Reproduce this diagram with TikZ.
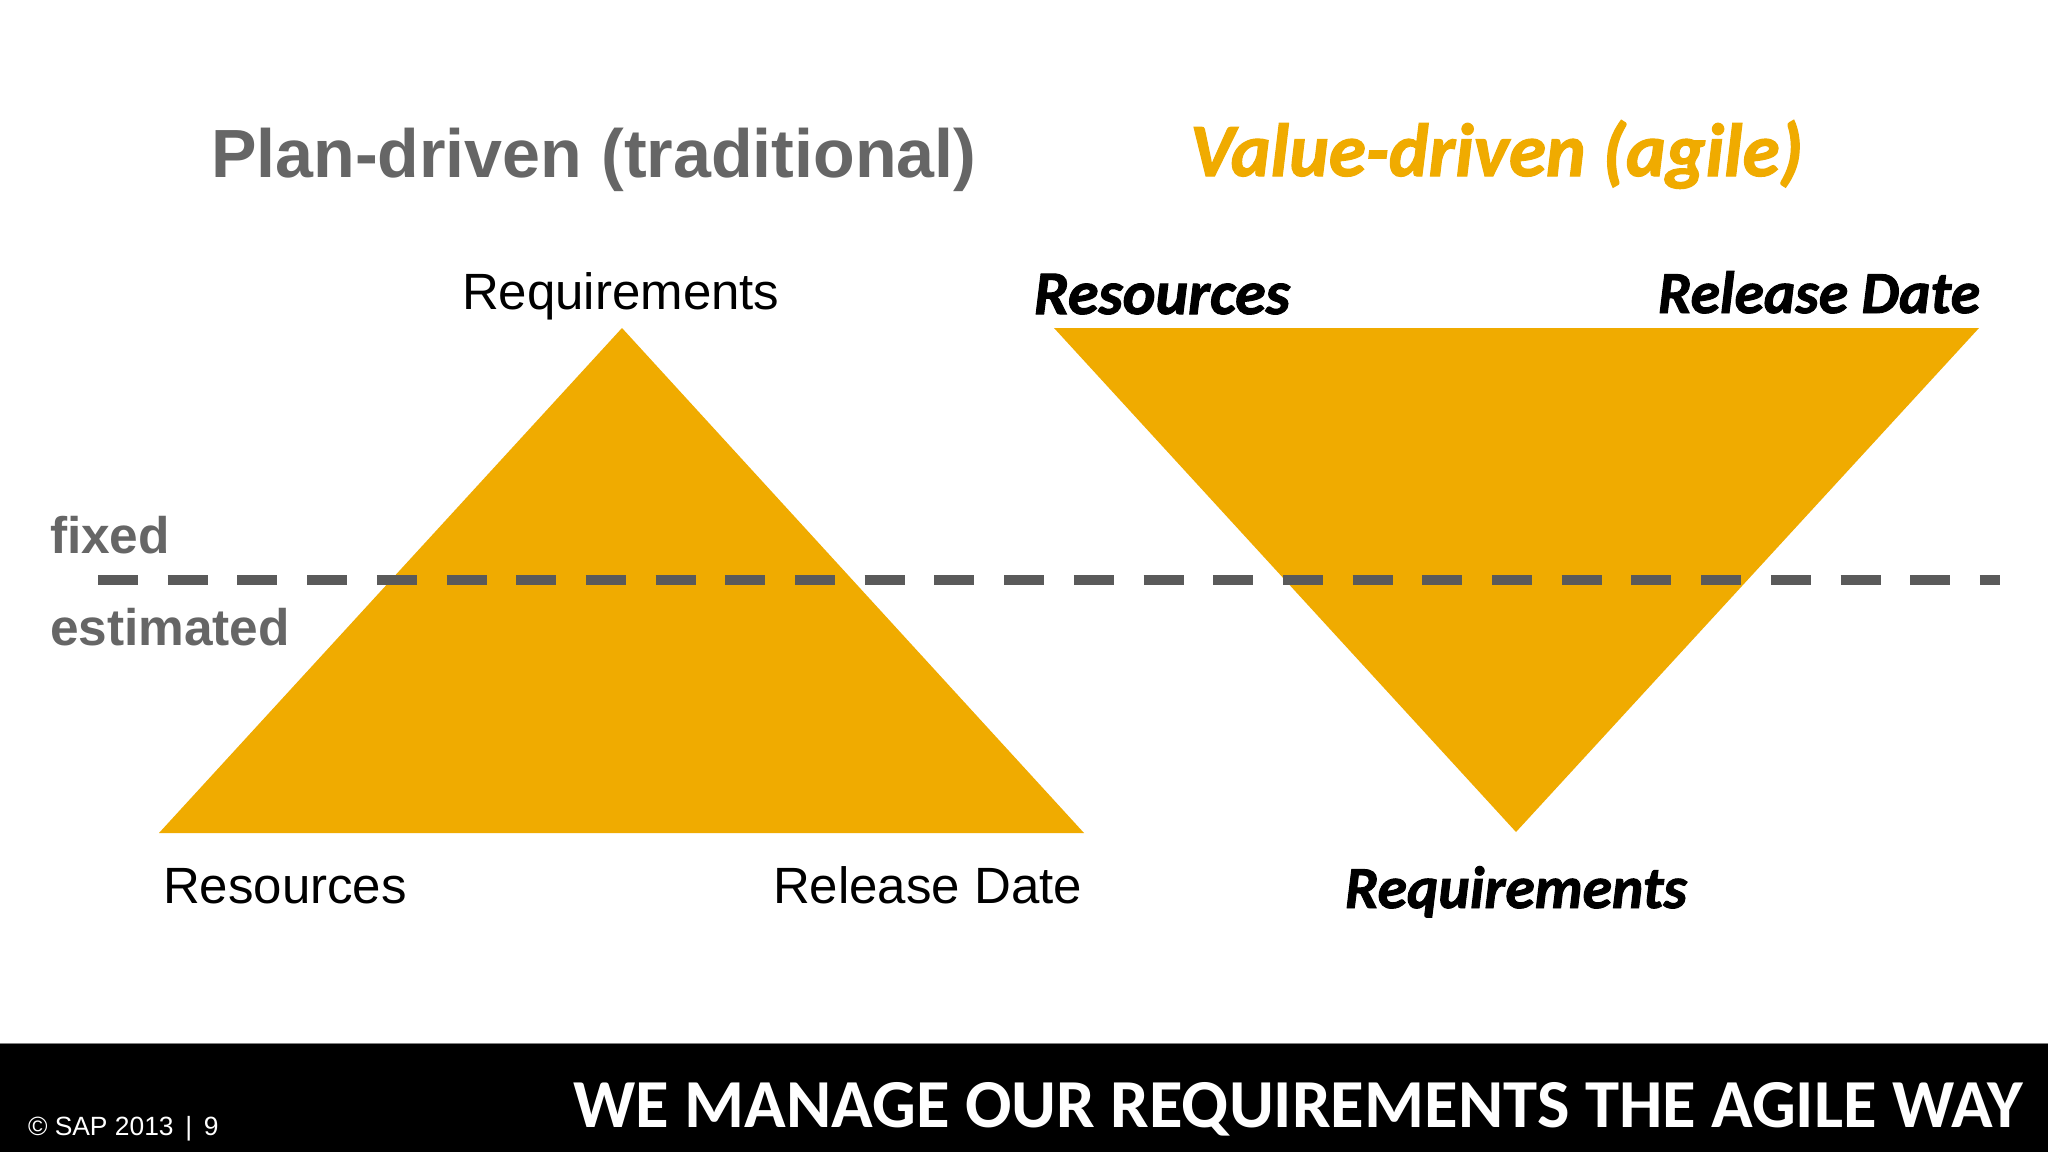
\documentclass[tikz,border=0pt]{standalone}
\usepackage{fontspec}
\setmainfont{Liberation Sans}
\newfontfamily\bannerfont{Carlito Bold}
\newfontfamily\brushfont[FakeBold=1.6]{Carlito Bold Italic}
\definecolor{sapgold}{HTML}{F0AB00}
\definecolor{sapgray}{HTML}{666666}
\definecolor{dashgray}{HTML}{5A5A5A}
\tikzset{
  x=1pt,y=-1pt,
  txt/.style={inner sep=0pt,outer sep=0pt},
  plain/.style={txt,anchor=base west,font=\fontsize{51}{51}\selectfont,text=black},
  sidelabel/.style={txt,anchor=base west,font=\fontsize{51.4}{51}\selectfont\bfseries,text=sapgray},
  brushlabel/.style={txt,anchor=base west,font=\fontsize{59.6}{59}\brushfont,text=black},
}
\begin{document}
\begin{tikzpicture}
\useasboundingbox (0,0) rectangle (2048,1152);
\fill[white] (0,0) rectangle (2048,1152);
\fill[sapgold] (622,328) -- (1084,833) -- (159,833) -- cycle;
\fill[sapgold] (1054,328) -- (1979,328) -- (1516,832) -- cycle;
\draw[dashgray,line width=10.5pt,dash pattern=on 40pt off 29.7pt] (98,580) -- (2000,580);
\fill[black] (0,1043) rectangle (2048,1152);
\draw[gray,line width=1pt] (0,1043) -- (2048,1043);
\node[txt,anchor=base west,font=\fontsize{68.2}{68}\selectfont\bfseries,text=sapgray] (plantitle) at (211,177) {Plan-driven (traditional)};
\node[txt,anchor=base west,font=\fontsize{75.3}{75}\brushfont,text=sapgold] (valuetitle) at (1190,176) {Value-driven (agile)};
\node[plain] (req1) at (462,309) {Requirements};
\node[plain] (res1) at (163,903) {Resources};
\node[plain] (rel1) at (773,903) {Release Date};
\node[sidelabel] (fixed) at (50,553) {fixed};
\node[sidelabel] (estimated) at (50,645) {estimated};
\node[brushlabel,font=\fontsize{62}{62}\brushfont] (res2) at (1034,314) {Resources};
\node[brushlabel] (rel2) at (1658,313) {Release Date};
\node[brushlabel] (req2) at (1345,908) {Requirements};
\node[txt,anchor=base west,font=\fontsize{26.4}{26}\selectfont,text=white] (foot) at (28,1135) {© SAP 2013 \,|\, 9};
\node[txt,anchor=base east,font=\fontsize{68.7}{68}\bannerfont,text=white] (banner) at (2023,1127) {WE MANAGE OUR REQUIREMENTS THE AGILE WAY};
\end{tikzpicture}
\end{document}
